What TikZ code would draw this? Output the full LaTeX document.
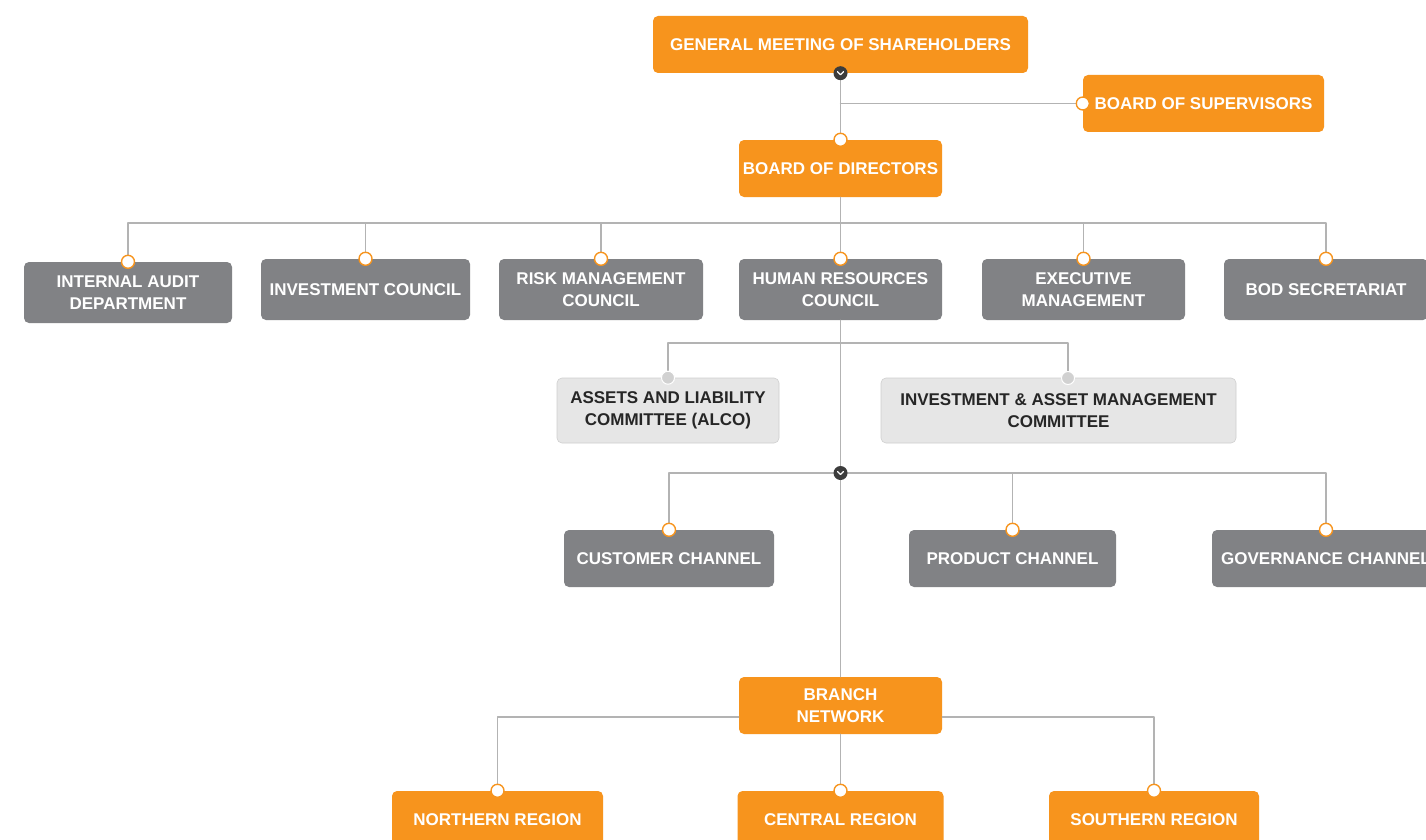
\documentclass[tikz,border=0pt]{standalone}
\usepackage{fontspec}
\setmainfont{Liberation Sans}
\definecolor{boxorange}{HTML}{F7941D}
\definecolor{boxgray}{HTML}{818285}
\definecolor{boxlight}{HTML}{E6E6E6}
\definecolor{linegray}{HTML}{B3B3B3}
\definecolor{chevgray}{HTML}{3C3C3C}
\begin{document}
\begin{tikzpicture}[x=1pt,y=-1pt,line join=round,line cap=round,
		font=\fontsize{17}{22}\selectfont\bfseries]
	\tikzset{
		unit/.style={rounded corners=5pt,inner sep=0pt,align=center,text=white},
		orangebox/.style={unit,fill=boxorange},
		graybox/.style={unit,fill=boxgray},
		lightbox/.style={unit,fill=boxlight,draw=boxlight!90!black,line width=0.6pt,text=black!85},
		conn/.style={draw=linegray,line width=1.1pt},
		dot/.style={circle,inner sep=0pt,minimum size=13pt,fill=white,draw=boxorange,line width=1.4pt},
		graydot/.style={circle,inner sep=0pt,minimum size=13pt,fill=black!18,draw=white,line width=1pt},
		chev/.style={circle,inner sep=0pt,minimum size=14pt,fill=chevgray},
		chevline/.style={draw=white,line width=1.3pt}
	}
	\useasboundingbox (0,0) rectangle (1426,840);
	\fill[white] (0,0) rectangle (1426,840);
	\clip (0,0) rectangle (1426,840);
	% top of the chart
	\node[orangebox,minimum width=375,minimum height=57] (gms) at (840.5,44.5) {GENERAL MEETING OF SHAREHOLDERS};
	\node[orangebox,minimum width=241,minimum height=57] (bos) at (1203.5,103.5) {BOARD OF SUPERVISORS};
	\node[orangebox,minimum width=203,minimum height=57] (bod) at (840.5,168.5) {BOARD OF DIRECTORS};
	% councils under the board
	\node[graybox,minimum width=208,minimum height=61] (audit) at (128,292.5) {INTERNAL AUDIT\\DEPARTMENT};
	\node[graybox,minimum width=209,minimum height=61] (invest) at (365.5,289.5) {INVESTMENT COUNCIL};
	\node[graybox,minimum width=204,minimum height=61] (risk) at (601,289.5) {RISK MANAGEMENT\\COUNCIL};
	\node[graybox,minimum width=203,minimum height=61] (hr) at (840.5,289.5) {HUMAN RESOURCES\\COUNCIL};
	\node[graybox,minimum width=203,minimum height=61] (exec) at (1083.5,289.5) {EXECUTIVE\\MANAGEMENT};
	\node[graybox,minimum width=204,minimum height=61] (secr) at (1326,289.5) {BOD SECRETARIAT};
	% committees
	\node[lightbox,minimum width=222,minimum height=65] (alco) at (668,410.5) {ASSETS AND LIABILITY\\COMMITTEE (ALCO)};
	\node[lightbox,minimum width=355,minimum height=65] (iamc) at (1058.5,410.5) {INVESTMENT \& ASSET MANAGEMENT\\COMMITTEE};
	\coordinate (iamcin) at (1068,378);
	% channels
	\node[graybox,minimum width=210,minimum height=57] (cust) at (669,558.5) {CUSTOMER CHANNEL};
	\node[graybox,minimum width=207,minimum height=57] (prod) at (1012.5,558.5) {PRODUCT CHANNEL};
	\node[graybox,minimum width=228,minimum height=57] (gov) at (1326,558.5) {GOVERNANCE CHANNEL};
	% branch network
	\node[orangebox,minimum width=203,minimum height=57] (branch) at (840.5,705.5) {BRANCH\\NETWORK};
	\node[orangebox,minimum width=211,minimum height=57] (north) at (497.5,819.5) {NORTHERN REGION};
	\node[orangebox,minimum width=206,minimum height=57] (central) at (840.5,819.5) {CENTRAL REGION};
	\node[orangebox,minimum width=210,minimum height=57] (south) at (1154,819.5) {SOUTHERN REGION};
	% buses
	\coordinate (topbus) at (840.5,223);
	\coordinate (combus) at (840.5,343);
	\coordinate (chanbus) at (840.5,473);
	\coordinate (brbus) at (840.5,717);
	% connectors
	\draw[conn] (gms.south) -- (bod.north);
	\draw[conn] (gms.south |- bos.west) -- (bos.west);
	\draw[conn] (bod.south) -- (hr.north);
	\draw[conn] (audit.north) |- (topbus) -| (secr.north);
	\foreach \n in {invest,risk,exec}
	\draw[conn] (\n.north) -- (\n.north |- topbus);
	\draw[conn] (hr.south) -- (branch.north);
	\draw[conn] (alco.north) |- (combus) -| (iamcin);
	\draw[conn] (cust.north) |- (chanbus) -| (gov.north);
	\draw[conn] (prod.north) -- (prod.north |- chanbus);
	\draw[conn] (north.north) |- (branch.west |- brbus);
	\draw[conn] (south.north) |- (branch.east |- brbus);
	\draw[conn] (branch.south) -- (central.north);
	% end dots
	\foreach \n in {bod,audit,invest,risk,hr,exec,secr,cust,prod,gov,north,central,south}
	\node[dot] at (\n.north) {};
	\node[dot] at (bos.west) {};
	\node[graydot] at (alco.north) {};
	\node[graydot] at (iamcin) {};
	% collapse buttons
	\node[chev] (c1) at (gms.south) {};
	\node[chev] (c2) at (chanbus) {};
	\foreach \c in {c1,c2}
	\draw[chevline] ([shift={(-3,-1.5)}]\c.center) -- ([shift={(0,1.5)}]\c.center) -- ([shift={(3,-1.5)}]\c.center);
\end{tikzpicture}
\end{document}
